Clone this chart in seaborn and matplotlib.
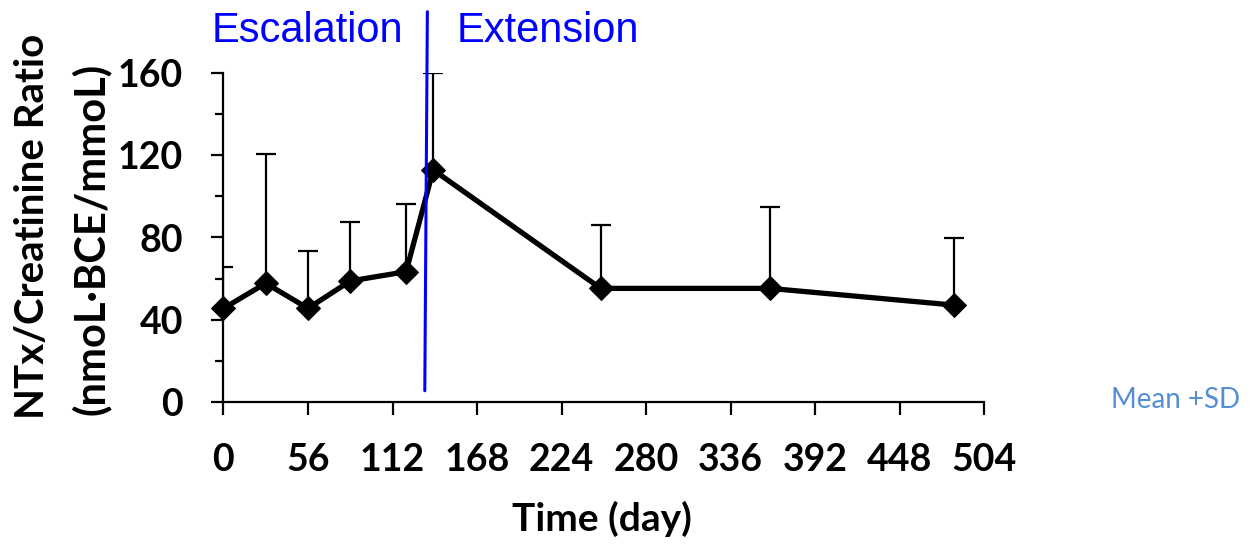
import matplotlib
matplotlib.use("Agg")
import matplotlib.pyplot as plt
import numpy as np
import pandas as pd
import seaborn as sns

# ---- data ----
days = [0, 28, 56, 84, 121, 139, 250, 362, 484]
mean_ratio = [45.6, 57.8, 45.6, 58.9, 63.4, 112.8, 55.3, 55.3, 47.2]
sd_ratio = [20.2, 62.7, 27.8, 28.5, 32.9, 47.2, 30.7, 39.7, 32.4]
x_ticks = [0, 56, 112, 168, 224, 280, 336, 392, 448, 504]
y_ticks = [0, 40, 80, 120, 160]
y_minor_ticks = [20, 60, 100, 140]
divider_days = [133.4, 135.1]
divider_vals = [5.6, 189.6]

sns.set_style("ticks")
plt.rcParams["font.family"] = ["Lato", "DejaVu Sans"]
for k in ["text.color", "axes.labelcolor", "xtick.color", "ytick.color"]:
    plt.rcParams[k] = "black"

W, H = 1250, 547
fig = plt.figure(figsize=(W / 100, H / 100), dpi=100)
ax = fig.add_axes([223.5 / W, 1 - 402.3 / H, (984 - 223.5) / W, (402.3 - 72.7) / H])

df = pd.DataFrame({"day": days, "ratio": mean_ratio, "sd": sd_ratio})

# upper-only SD error bars (clipped to the plot area)
ax.errorbar(df["day"], df["ratio"], yerr=[np.zeros(len(df)), df["sd"]], fmt="none",
            ecolor="black", elinewidth=1.6, capsize=7.5, capthick=1.6, zorder=2)

sns.lineplot(data=df, x="day", y="ratio", ax=ax, color="black", linewidth=3.8,
             marker="D", markersize=12.5, markeredgecolor="black",
             markerfacecolor="black", zorder=3, clip_on=False)

# divider line
ax.plot(divider_days, divider_vals, color="#0000FF", linewidth=2.2, clip_on=False, zorder=4)

ax.set_xlim(0, 504)
ax.set_ylim(0, 160)
ax.set_xticks(x_ticks)
ax.set_xticklabels([str(t) for t in x_ticks])
ax.set_yticks(y_ticks)
ax.set_yticklabels([str(t) for t in y_ticks])
ax.set_yticks(y_minor_ticks, minor=True)
ax.set_xlabel("")
ax.set_ylabel("")

for s in ["top", "right"]:
    ax.spines[s].set_visible(False)
for s in ["left", "bottom"]:
    ax.spines[s].set_linewidth(1.6)
    ax.spines[s].set_color("black")

ax.tick_params(axis="both", which="major", direction="out", length=9, width=1.6,
               color="black", labelcolor="black", labelsize=27)
ax.tick_params(axis="x", which="major", pad=20)
ax.tick_params(axis="y", which="major", pad=20)
ax.tick_params(axis="y", which="minor", direction="out", length=6, width=1.6, color="black")
for lab in ax.get_xticklabels() + ax.get_yticklabels():
    lab.set_fontweight("bold")

# axis titles
fig.text(602 / W, 1 - 531 / H, "Time (day)", ha="center", va="baseline",
         fontsize=28, fontweight="bold", color="black")
fig.text(33 / W, 1 - 226.7 / H, "NTx/Creatinine Ratio", ha="center", va="center",
         rotation=90, rotation_mode="anchor", fontsize=29, fontweight="bold", color="black")
fig.text(91 / W, 1 - 239 / H, "(nmoL·BCE/mmoL)", ha="center", va="center",
         rotation=90, rotation_mode="anchor", fontsize=30, fontweight="bold", color="black")

# phase labels
fig.text(403 / W, 1 - 41.7 / H, "Escalation", ha="right", va="baseline",
         fontsize=30, color="#0000FF", family=["Liberation Sans", "DejaVu Sans"])
fig.text(456.7 / W, 1 - 41.7 / H, "Extension", ha="left", va="baseline",
         fontsize=30, color="#0000FF", family=["Liberation Sans", "DejaVu Sans"])

fig.text(1240 / W, 1 - 408.3 / H, "Mean +SD", ha="right", va="baseline",
         fontsize=20, color="#558ED5")

fig.savefig("out.png", dpi=100)
